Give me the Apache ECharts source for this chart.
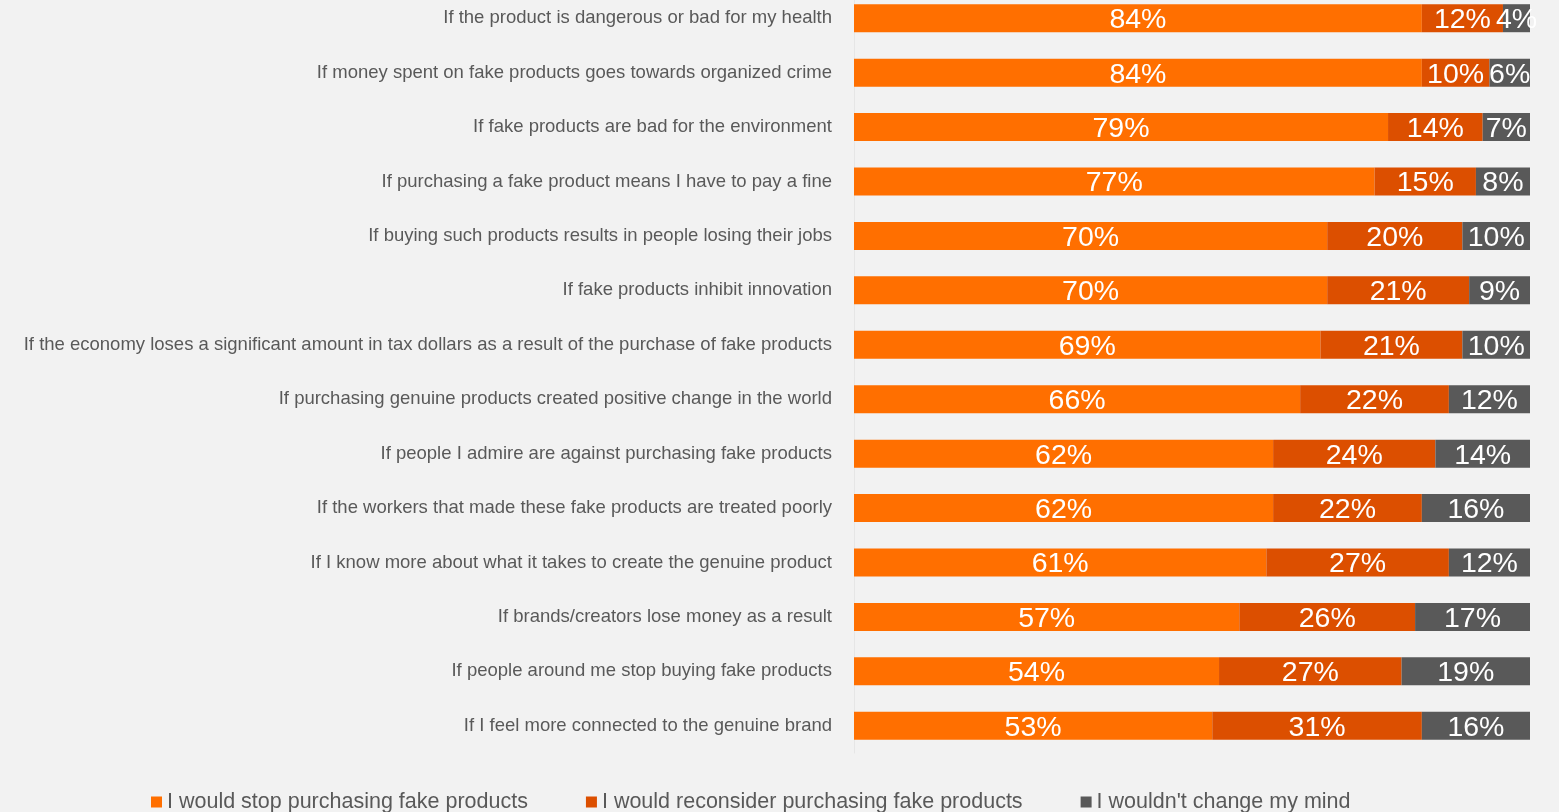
<!DOCTYPE html>
<html>
<head>
<meta charset="utf-8">
<script src="https://cdn.jsdelivr.net/npm/echarts@6/dist/echarts.min.js"></script>
<style>
html,body{margin:0;padding:0;background:#f2f2f2;}
#c{width:1559px;height:812px;}
</style>
</head>
<body>
<div id="c"></div>
<script>
const categories = [
  "If the product is dangerous or bad for my health",
  "If money spent on fake products goes towards organized crime",
  "If fake products are bad for the environment",
  "If purchasing a fake product means I have to pay a fine",
  "If buying such products results in people losing their jobs",
  "If fake products inhibit innovation",
  "If the economy loses a significant amount in tax dollars as a result of the purchase of fake products",
  "If purchasing genuine products created positive change in the world",
  "If people I admire are against purchasing fake products",
  "If the workers that made these fake products are treated poorly",
  "If I know more about what it takes to create the genuine product",
  "If brands/creators lose money as a result",
  "If people around me stop buying fake products",
  "If I feel more connected to the genuine brand"
];
const seriesNames = ["I would stop purchasing fake products", "I would reconsider purchasing fake products", "I wouldn't change my mind"];
const stopValues = [84, 84, 79, 77, 70, 70, 69, 66, 62, 62, 61, 57, 54, 53];
const reconsiderValues = [12, 10, 14, 15, 20, 21, 21, 22, 24, 22, 27, 26, 27, 31];
const noChangeValues = [4, 6, 7, 8, 10, 9, 10, 12, 14, 16, 12, 17, 19, 16];
const colors = ["#ff6f00", "#dc4f00", "#595959"];

const chart = echarts.init(document.getElementById('c'));
const FONT = '"Liberation Sans", Arial, sans-serif';
function mk(name, data, color) {
  return {
    name: name,
    type: 'bar',
    stack: 'total',
    data: data,
    barWidth: 28,
    itemStyle: { color: color },
    label: {
      show: true,
      position: 'inside',
      offset: [0, 2],
      color: '#ffffff',
      fontFamily: FONT,
      fontSize: 28.5,
      formatter: '{c}%'
    },
    emphasis: { disabled: true }
  };
}
chart.setOption({
  backgroundColor: '#f2f2f2',
  animation: false,
  textStyle: { fontFamily: FONT },
  grid: { left: 854, right: 29, top: -9, height: 762, containLabel: false, outerBoundsMode: 'none' },
  xAxis: { type: 'value', min: 0, max: 100, show: false },
  yAxis: {
    type: 'category',
    inverse: true,
    data: categories,
    axisTick: { show: false },
    axisLine: { show: true, lineStyle: { color: '#e6e6e6', width: 1 } },
    axisLabel: { color: '#595959', fontSize: 18.5, fontFamily: FONT, margin: 22, padding: [4, 0, 0, 0] }
  },
  legend: {
    left: 146,
    top: 786,
    itemWidth: 11,
    itemHeight: 11,
    itemGap: 58,
    icon: 'rect',
    textStyle: { color: '#595959', fontSize: 21.5, fontFamily: FONT },
    data: seriesNames
  },
  series: [
    mk(seriesNames[0], stopValues, colors[0]),
    mk(seriesNames[1], reconsiderValues, colors[1]),
    mk(seriesNames[2], noChangeValues, colors[2])
  ]
});
</script>
</body>
</html>
